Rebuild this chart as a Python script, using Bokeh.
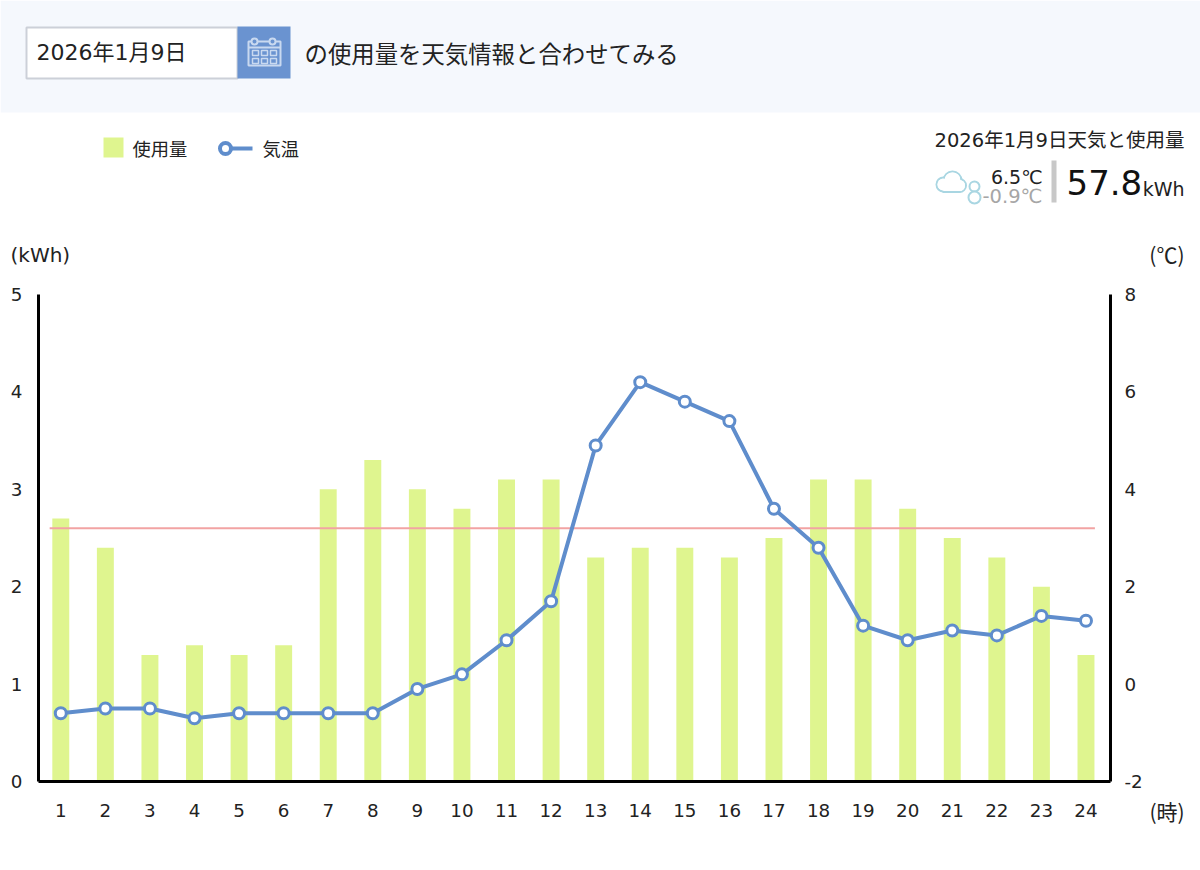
from bokeh.plotting import figure
from bokeh.layouts import column, row
from bokeh.models import Range1d, LinearAxis, FixedTicker
from bokeh.core.properties import value
from bokeh.embed import file_html
from bokeh.resources import INLINE

# ---- data ----
hours = list(range(1, 25))
usage_kwh = [2.7, 2.4, 1.3, 1.4, 1.3, 1.4, 3.0, 3.3, 3.0, 2.8, 3.1, 3.1,
             2.3, 2.4, 2.4, 2.3, 2.5, 3.1, 3.1, 2.8, 2.5, 2.3, 2.0, 1.3]
temperature_c = [-0.6, -0.5, -0.5, -0.7, -0.6, -0.6, -0.6, -0.6, -0.1, 0.2, 0.9, 1.7,
                 4.9, 6.2, 5.8, 5.4, 3.6, 2.8, 1.2, 0.9, 1.1, 1.0, 1.4, 1.3]
reference_kwh = 2.6
kwh_ticks = [0, 1, 2, 3, 4, 5]
temp_ticks = [-2, 0, 2, 4, 6, 8]
date_label = "2026年1月9日"
title_label = "の使用量を天気情報と合わせてみる"
summary_label = "2026年1月9日天気と使用量"
high_label = "6.5℃"
low_label = "-0.9℃"
total_label = "57.8"

GREEN = "#DFF58F"
BLUE = "#5F8DCC"
RED = "#F2A3A3"
INK = "#222222"
LATIN = "DejaVu Sans, 'Noto Sans CJK JP'"
CJK = "'Noto Sans CJK JP'"
ICON = "#A9D6E2"
PALE = "#C9D9F0"

# ---- header: page-pixel coordinates, y pointing down ----
H_BOTTOM = 280
head = figure(width=1200, height=H_BOTTOM, x_range=Range1d(0, 1200),
              y_range=Range1d(H_BOTTOM, 0), output_backend="svg",
              toolbar_location=None, min_border=0, x_axis_location=None,
              y_axis_location=None, outline_line_color=None)
head.grid.visible = False
head.margin = 0
head.frame_align = False


def box(l, t, r, b, fill, line=None, lw=1):
    head.quad(left=[l], right=[r], top=[t], bottom=[b], fill_color=fill,
              line_color=line, line_width=lw)


def txt(x, y, s, size, color=INK, align="left", font=LATIN):
    head.text(x=[x], y=[y], text=[s], text_font=value(font),
              text_font_size=value(f"{size}px"), text_color=color,
              text_align=align, text_baseline="middle")


box(0, 0, 1200, 112, "#F5F8FD")
box(26, 27, 237, 78, "#FFFFFF", "#CCD0D8", 2)
box(237, 26, 290, 78, "#6A93D0")
txt(36, 52, date_label, 22)
txt(304, 52, title_label, 23.4, font=CJK)

# calendar icon
box(248, 41, 280, 65, None, PALE, 2)
head.segment(x0=[248], y0=[47], x1=[280], y1=[47], line_color=PALE, line_width=2)
head.scatter(x=[254, 272], y=[41, 41], size=6, fill_color="#6A93D0", line_color=PALE, line_width=2)
for gx in (252, 261, 270):
    for gy in (50, 58):
        box(gx, gy, gx + 6, gy + 5, None, PALE, 1.5)

# legend
box(103, 137, 123, 157, GREEN)
txt(132, 147, "使用量", 18.3, font=CJK)
head.segment(x0=[225], y0=[148], x1=[252], y1=[148], line_color=BLUE, line_width=4)
head.scatter(x=[225], y=[148], size=11, fill_color="#FFFFFF", line_color=BLUE, line_width=4)
txt(262, 147, "気温", 18.3, font=CJK)

# weather summary
txt(1184, 140, summary_label, 19.5, align="right")
head.circle(x=[943, 952, 959], y=[184, 180, 185], radius=[7, 9, 6.5], fill_color="#FFFFFF",
            line_color=ICON, line_width=2)
head.circle(x=[943, 952, 959], y=[184, 180, 185], radius=[6, 8, 5.5], fill_color="#FFFFFF",
            line_color=None)
head.quad(left=[943], right=[959], top=[185], bottom=[191], fill_color="#FFFFFF", line_color=None)
head.segment(x0=[942], y0=[191.5], x1=[960], y1=[191.5], line_color=ICON, line_width=2)
head.circle(x=[974, 974], y=[186, 197], radius=[5, 6], fill_color="#FFFFFF", line_color=ICON, line_width=2)
txt(1042, 176, high_label, 19, align="right")
txt(1042, 196, low_label, 19.5, color="#A6A6A6", align="right")
box(1051, 160, 1056, 202, "#C8C8C8")
txt(1066, 182, total_label, 34, color="#111111")
txt(1184, 188, "kWh", 19, align="right")
txt(10, 254, "(kWh)", 20)
txt(1184, 253, "(℃)", 21, align="right", font=CJK)

# ---- chart ----
p = figure(width=1146, height=590, x_range=Range1d(0.5, 24.55), y_range=Range1d(0, 5),
           output_backend="svg", toolbar_location=None, min_border_left=38,
           min_border_right=36, min_border_top=14, min_border_bottom=89,
           outline_line_color=None, x_axis_location="below")
p.margin = 0
p.frame_align = False
p.grid.visible = False
p.extra_y_ranges = {"temp": Range1d(-2, 8)}
p.add_layout(LinearAxis(y_range_name="temp"), "right")

for ax, ticks in ((p.xaxis[0], hours), (p.yaxis[0], kwh_ticks), (p.yaxis[1], temp_ticks)):
    ax.ticker = FixedTicker(ticks=ticks)
    ax.major_tick_line_color = None
    ax.minor_tick_line_color = None
    ax.axis_line_color = "#000000"
    ax.axis_line_width = 3
    ax.major_label_text_font = "DejaVu Sans"
    ax.major_label_text_font_size = "18.3px"
    ax.major_label_text_color = INK
    ax.major_label_standoff = 10
p.xaxis[0].major_label_standoff = 16
p.yaxis[1].major_label_standoff = 8
p.yaxis[1].major_label_overrides = {-2: "-2"}

p.vbar(x=hours, top=usage_kwh, width=0.38, fill_color=GREEN, line_color=None)
p.line(x=[hours[0] - 0.25, hours[-1] + 0.2], y=[reference_kwh, reference_kwh],
       line_color=RED, line_width=2)
p.line(x=hours, y=temperature_c, y_range_name="temp", line_color=BLUE, line_width=4)
p.scatter(x=hours, y=temperature_c, y_range_name="temp", size=11, fill_color="#FFFFFF",
          line_color=BLUE, line_width=3)

# ---- strip right of the chart, holding the x-axis unit ----
side = figure(width=54, height=590, x_range=Range1d(1146, 1200), y_range=Range1d(870, 280),
              output_backend="svg", toolbar_location=None, min_border=0, x_axis_location=None,
              y_axis_location=None, outline_line_color=None)
side.margin = 0
side.frame_align = False
side.grid.visible = False
side.text(x=[1149], y=[810], text=["(時)"], text_font=value(CJK), text_font_size=value("21px"),
          text_color=INK, text_align="left", text_baseline="middle")

page = column(head, row(p, side, spacing=0), spacing=0)
open("out.html", "w").write(file_html(page, INLINE))
